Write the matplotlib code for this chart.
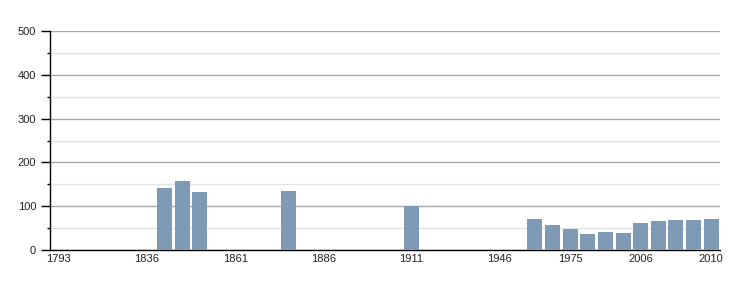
import numpy as np
import matplotlib
matplotlib.use("Agg")
import matplotlib.pyplot as plt

# census years (one slot each) and population
years = [1793, 1800, 1806, 1821, 1831, 1836, 1841, 1846, 1851, 1856,
         1861, 1866, 1872, 1876, 1881, 1886, 1891, 1896, 1901, 1906,
         1911, 1921, 1926, 1931, 1936, 1946, 1954, 1962, 1968, 1975,
         1982, 1990, 1999, 2006, 2007, 2008, 2009, 2010]
population = [None, None, None, None, None, None, 142, 157, 132, None,
              None, None, None, 135, None, None, None, None, None, None,
              100, None, None, None, None, None, None, 71, 57, 48,
              37, 41, 39, 62, 66, 68, 68, 71]
labelled_years = [1793, 1836, 1861, 1886, 1911, 1946, 1975, 2006, 2010]

plt.rcParams['font.family'] = ['Liberation Sans', 'DejaVu Sans']

fig = plt.figure(figsize=(7.5, 3), dpi=100)
ax = fig.add_axes([50 / 750, 50 / 300, 670 / 750, 219 / 300])

x = np.arange(len(years))
vals = np.array([np.nan if v is None else v for v in population], dtype=float)
ax.bar(x, np.nan_to_num(vals), width=0.85, color='#7f9ab4', zorder=3)

ax.set_xlim(-0.5, len(years) - 0.5)
ax.set_ylim(0, 500)

ax.set_yticks(np.arange(0, 501, 100))
ax.set_yticks(np.arange(50, 500, 100), minor=True)
ax.grid(axis='y', which='major', color='#a8a8a8', linewidth=1, zorder=0)
ax.grid(axis='y', which='minor', color='#e3e3e3', linewidth=1, zorder=0)

pos = [years.index(y) for y in labelled_years]
ax.set_xticks(pos)
ax.set_xticklabels([str(y) for y in labelled_years])
ax.tick_params(axis='x', length=0, pad=3, labelsize=8, colors='#222222')
ax.tick_params(axis='y', which='major', length=6.5, width=1, labelsize=8, colors='#222222', pad=3.5)
ax.tick_params(axis='y', which='minor', length=2.5, width=1)
ax.tick_params(axis='y', which='both', color='black')

for s in ['top', 'right']:
    ax.spines[s].set_visible(False)
for s in ['left', 'bottom']:
    ax.spines[s].set_color('black')
    ax.spines[s].set_linewidth(1)

fig.savefig('out.png', dpi=100)
